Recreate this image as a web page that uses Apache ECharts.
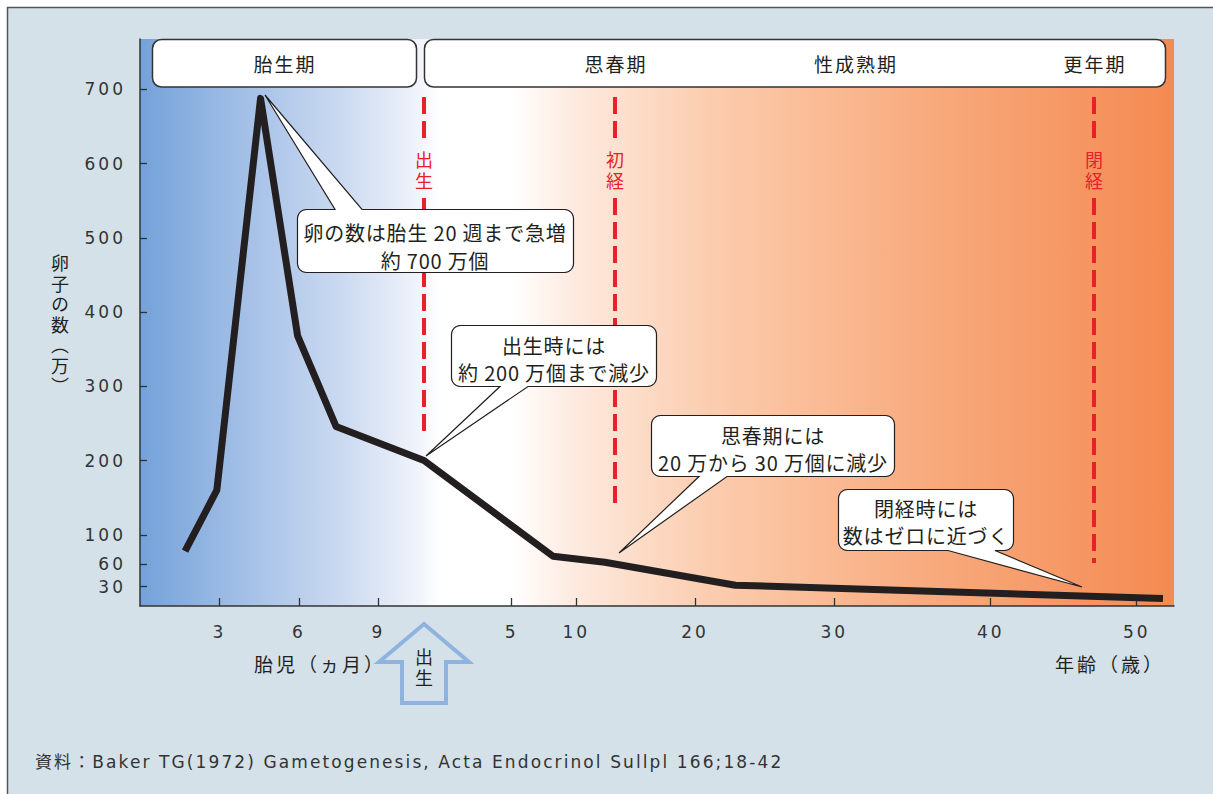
<!DOCTYPE html>
<html><head><meta charset="utf-8">
<script src="https://cdn.jsdelivr.net/npm/echarts@6/dist/echarts.min.js"></script>
<style>html,body{margin:0;padding:0;background:#fff}#c{width:1213px;height:794px}</style>
</head><body><div id="c"></div>
<script>
// ---------------- data ----------------
const fetalMonths = [1.7, 2.9, 4.55, 5.95, 7.4];          // 胎児（ヵ月）
const fetalCounts = [78, 160, 688, 368, 246];              // 万個
const postnatalYears = [0, 8.2, 12.4, 22.9, 51.8];         // 年齢（歳）
const postnatalCounts = [200, 71, 63, 32, 14];             // 万個
const fetalTickLabels = [3, 6, 9];
const yearTickLabels = [5, 10, 20, 30, 40, 50];
const countTickLabels = [30, 60, 100, 200, 300, 400, 500, 600, 700];
const phaseNames = ['胎生期', '思春期', '性成熟期', '更年期'];
const eventNames = ['出生', '初経', '閉経'];
const eventAges = [0, 13.3, 47.1];
const calloutTexts = [
  ['卵の数は胎生 20 週まで急増', '約 700 万個'],
  ['出生時には', '約 200 万個まで減少'],
  ['思春期には', '20 万から 30 万個に減少'],
  ['閉経時には', '数はゼロに近づく']
];
const yAxisName = '卵子の数（万）';
const xAxisNames = ['胎児（ヵ月）', '年齢（歳）'];
const footnote = '資料：Baker TG(1972) Gametogenesis, Acta Endocrinol Sullpl 166;18-42';

// ---------------- axis scale (hand-drawn, piecewise age axis) ----------------
const BIRTH_MONTH = 10.72;
const ageAxisAnchors = [[-BIRTH_MONTH / 12, 0], [0, 284], [5, 371.7], [10, 436.3], [20, 555], [30, 694.3], [40, 850.7], [50, 996.7], [60, 1142.7]];
function ageToAxis(a) {
  const A = ageAxisAnchors;
  for (let i = 0; i < A.length - 1; i++) {
    if (a <= A[i + 1][0] || i === A.length - 2) {
      const t = (a - A[i][0]) / (A[i + 1][0] - A[i][0]);
      return A[i][1] + t * (A[i + 1][1] - A[i][1]);
    }
  }
}
const monthToAxis = m => ageToAxis((m - BIRTH_MONTH) / 12);

const lineData = [];
fetalMonths.forEach((m, i) => lineData.push([monthToAxis(m), fetalCounts[i]]));
postnatalYears.forEach((y, i) => lineData.push([ageToAxis(y), postnatalCounts[i]]));

const xTicks = fetalTickLabels.map(m => ({ v: monthToAxis(m), label: String(m) }))
  .concat(yearTickLabels.map(y => ({ v: ageToAxis(y), label: String(y) })));

const JP = '"Noto Sans CJK JP", sans-serif';
const NUM = '"DejaVu Sans", "Noto Sans CJK JP", sans-serif';
const INK = '#231f20';

const chart = echarts.init(document.getElementById('c'), null, { renderer: 'svg' });

const option = {
  backgroundColor: '#d5e1e9',
  animation: false,
  grid: {
    left: 140, top: 39, right: 39, bottom: 188,
    containLabel: false, outerBoundsMode: 'none',
    show: true, borderWidth: 0,
    backgroundColor: new echarts.graphic.LinearGradient(0, 0, 1, 0, [
      { offset: 0, color: '#74a2d9' },
      { offset: 0.1, color: '#a3bfe6' },
      { offset: 0.2, color: '#cddbf1' },
      { offset: 0.27, color: '#f1f4fb' },
      { offset: 0.29, color: '#ffffff' },
      { offset: 0.36, color: '#ffffff' },
      { offset: 0.42, color: '#fdeadf' },
      { offset: 0.55, color: '#fbcdaf' },
      { offset: 0.75, color: '#f8ac80' },
      { offset: 1, color: '#f48a52' }
    ])
  },
  xAxis: {
    type: 'value', min: 0, max: 1034,
    splitLine: { show: false },
    axisLine: { show: true, onZero: false, lineStyle: { color: '#333', width: 1.5 } },
    axisTick: { show: true, inside: true, length: 8, customValues: xTicks.map(t => t.v), lineStyle: { color: '#333', width: 1.3 } },
    axisLabel: {
      show: true, margin: 17, customValues: xTicks.map(t => t.v),
      color: '#333', fontFamily: NUM, fontSize: 17,
      formatter: v => { let best = xTicks[0]; xTicks.forEach(t => { if (Math.abs(t.v - v) < Math.abs(best.v - v)) best = t; }); return best.label; }
    }
  },
  yAxis: {
    type: 'value', min: 4, max: 768,
    splitLine: { show: false },
    axisLine: { show: true, onZero: false, lineStyle: { color: '#333', width: 1.5 } },
    axisTick: { show: true, inside: true, length: 7, customValues: countTickLabels, lineStyle: { color: '#333', width: 1.3 } },
    axisLabel: { show: true, margin: 14, customValues: countTickLabels, color: '#333', fontFamily: NUM, fontSize: 17 }
  },
  series: [{
    type: 'line', data: lineData, symbol: 'none', smooth: false, z: 5,
    lineStyle: { color: INK, width: 7, cap: 'butt', join: 'round' }
  }]
};
chart.setOption(option);

// ---------------- annotations ----------------
function arcPts(cx, cy, r, a0, a1) {
  const pts = [];
  for (let k = 0; k <= 6; k++) {
    const a = a0 + (a1 - a0) * k / 6;
    pts.push([cx + r * Math.cos(a), cy + r * Math.sin(a)]);
  }
  return pts;
}
function calloutPoints(x, y, w, h, r, edge, b1, b2, tx, ty) {
  const P = Math.PI;
  let pts = [];
  pts = pts.concat(arcPts(x + r, y + r, r, P, 1.5 * P));
  if (edge === 'top') pts.push([b1, y], [tx, ty], [b2, y]);
  pts = pts.concat(arcPts(x + w - r, y + r, r, 1.5 * P, 2 * P));
  pts = pts.concat(arcPts(x + w - r, y + h - r, r, 0, 0.5 * P));
  if (edge === 'bottom') pts.push([b2, y + h], [tx, ty], [b1, y + h]);
  pts = pts.concat(arcPts(x + r, y + h - r, r, 0.5 * P, P));
  return pts;
}
function txt(text, x, y, size, color, font, align) {
  return { type: 'text', z: 120, style: { text, x, y, fill: color || INK, font: `${size}px ${font || JP}`, textAlign: align || 'center', textVerticalAlign: 'middle' } };
}

const els = [];
// outer frame
els.push({ type: 'rect', z: 1, shape: { x: 0, y: 0, width: 1213, height: 7 }, style: { fill: '#fff' } });
els.push({ type: 'rect', z: 1, shape: { x: 0, y: 0, width: 7, height: 794 }, style: { fill: '#fff' } });
els.push({ type: 'line', z: 2, shape: { x1: 7.5, y1: 7, x2: 7.5, y2: 794 }, style: { stroke: '#555', lineWidth: 1.5 } });
els.push({ type: 'line', z: 2, shape: { x1: 7, y1: 7.5, x2: 1213, y2: 7.5 }, style: { stroke: '#555', lineWidth: 1.5 } });

// phase header boxes
els.push({ type: 'rect', z: 110, shape: { x: 152.5, y: 39.5, width: 264, height: 47.5, r: 9 }, style: { fill: '#fff', stroke: '#333', lineWidth: 1.5 } });
els.push({ type: 'rect', z: 110, shape: { x: 424.5, y: 39.5, width: 741, height: 47.5, r: 9 }, style: { fill: '#fff', stroke: '#333', lineWidth: 1.5 } });
const phaseX = [285, 616, 856, 1095];
phaseNames.forEach((n, i) => els.push(txt(n, phaseX[i], 63, 19)));

// events: red dashed lines + vertical labels
const eventEnds = [432, 505, 563];
eventNames.forEach((n, i) => {
  const px = Math.round(chart.convertToPixel({ gridIndex: 0 }, [ageToAxis(eventAges[i]), 100])[0]);
  [[97, 139], [198, eventEnds[i]]].forEach(seg => els.push({
    type: 'line', z: 100, shape: { x1: px, y1: seg[0], x2: px, y2: seg[1] },
    style: { stroke: '#e8202a', lineWidth: 4, lineDash: [17, 7] }
  }));
  els.push(txt(n, px, 172, 18, '#e8202a'));
});

// callouts
const boxes = [
  { x: 297.5, y: 209.5, w: 276, h: 63, edge: 'top', b1: 335, b2: 362, tx: 265, ty: 95, cx: 435, ly: [232, 260] },
  { x: 451.5, y: 325.5, w: 205, h: 61, edge: 'bottom', b1: 500, b2: 528, tx: 426, ty: 456, cx: 554, ly: [345, 372] },
  { x: 651.5, y: 415.5, w: 243, h: 61, edge: 'bottom', b1: 699, b2: 727, tx: 619, ty: 553, cx: 773, ly: [435, 462] },
  { x: 838.5, y: 489.5, w: 175, h: 61, edge: 'bottom', b1: 948, b2: 995, tx: 1082, ty: 587, cx: 926, ly: [508, 535] }
];
boxes.forEach((b, i) => {
  els.push({ type: 'polygon', z: 110, shape: { points: calloutPoints(b.x, b.y, b.w, b.h, 9, b.edge, b.b1, b.b2, b.tx, b.ty) },
    style: { fill: '#fff', stroke: INK, lineWidth: 1.2 } });
  calloutTexts[i].forEach((t, j) => els.push(txt(t, b.cx, b.ly[j], 20)));
});

// y-axis name (vertical text)
els.push(txt(yAxisName, 60, 326, 18));

// x-axis names
els.push(txt(xAxisNames[0], 320, 663, 19));
els.push(txt(xAxisNames[1], 1110, 663, 19));

// birth arrow
els.push({ type: 'polygon', z: 100, shape: { points: [[424, 624], [469, 662], [446, 662], [446, 703], [402, 703], [402, 662], [379, 662]] },
  style: { fill: '#d5e1e9', stroke: '#8fb3de', lineWidth: 4, lineJoin: 'miter' } });
els.push(txt('出生', 424, 669, 18));

// footnote
els.push(txt(footnote, 35, 762, 17, '#333', NUM, 'left'));

chart.setOption({ graphic: { elements: els } });

// typography: letter-spaced text and vertical (tategaki) labels as in the original artwork
const calloutLines = [].concat.apply([], calloutTexts);
function applyTypography() {
  document.querySelectorAll('#c svg text').forEach(t => {
    const s = t.textContent;
    let ls = null;
    if (/^\d+$/.test(s)) ls = 3;
    else if (s === footnote) ls = 2.1;
    else if (phaseNames.indexOf(s) >= 0) ls = 2;
    else if (xAxisNames.indexOf(s) >= 0) ls = 3;
    else if (calloutLines.indexOf(s) >= 0) ls = 0.8;
    else if (s === yAxisName) { ls = 2.5; t.style.writingMode = 'vertical-rl'; }
    else if (eventNames.indexOf(s) >= 0) { ls = 2.5; t.style.writingMode = 'vertical-rl'; }
    if (ls !== null) t.setAttribute('letter-spacing', ls + 'px');
  });
}
applyTypography();
chart.on('finished', applyTypography);
setTimeout(applyTypography, 50);
</script></body></html>
